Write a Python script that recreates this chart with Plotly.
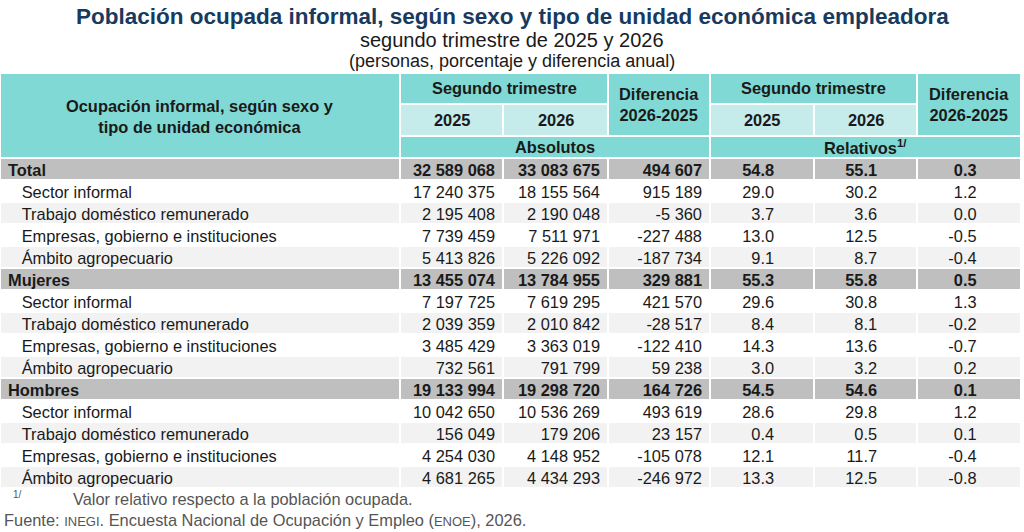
import plotly.graph_objects as go

# ==== datos ====
grupos = ["Total", "Mujeres", "Hombres"]
tipos = ["Sector informal", "Trabajo doméstico remunerado",
         "Empresas, gobierno e instituciones", "Ámbito agropecuario"]

abs_2025 = [32589068, 17240375, 2195408, 7739459, 5413826,
            13455074, 7197725, 2039359, 3485429, 732561,
            19133994, 10042650, 156049, 4254030, 4681265]
abs_2026 = [33083675, 18155564, 2190048, 7511971, 5226092,
            13784955, 7619295, 2010842, 3363019, 791799,
            19298720, 10536269, 179206, 4148952, 4434293]
abs_dif = [494607, 915189, -5360, -227488, -187734,
           329881, 421570, -28517, -122410, 59238,
           164726, 493619, 23157, -105078, -246972]
rel_2025 = [54.8, 29.0, 3.7, 13.0, 9.1,
            55.3, 29.6, 8.4, 14.3, 3.0,
            54.5, 28.6, 0.4, 12.1, 13.3]
rel_2026 = [55.1, 30.2, 3.6, 12.5, 8.7,
            55.8, 30.8, 8.1, 13.6, 3.2,
            54.6, 29.8, 0.5, 11.7, 12.5]
rel_dif = [0.3, 1.2, 0.0, -0.5, -0.4,
           0.5, 1.3, -0.2, -0.7, 0.2,
           0.1, 1.2, 0.1, -0.4, -0.8]

W, H = 1024, 532
TEAL = "#80d9d4"
TEAL_LIGHT = "#c5ecea"
GRIS = "#bfbfbf"
GRIS_CLARO = "#f2f2f2"
CLARO = "rgba(0,0,0,0)"
NB = "\u00a0"
FONT = "Liberation Sans, Arial, sans-serif"
FS = 16.4

# bordes de columnas (px)
cols = [0, 400, 503, 608, 710, 814, 917, 1021]
y_top, y_r1, y_r2, y_r3 = 73, 104, 136, 158
row_h = 22
sube_texto = 2  # el texto de la tabla queda algo bajo; se sube unos px


def miles(v):
    s = f"{abs(v):,}".replace(",", " ")
    return ("-" if v < 0 else "") + s


# ==== etiquetas y estilo de filas ====
etiquetas, fills, es_grupo = [], [], []
for g in grupos:
    etiquetas.append(g)
    fills.append(GRIS)
    es_grupo.append(True)
    for i, t in enumerate(tipos):
        etiquetas.append(NB * 3 + t)
        fills.append("white" if i % 2 == 0 else GRIS_CLARO)
        es_grupo.append(False)


def fmt(vals, f, pad):
    return [f(v) + NB * pad for v in vals]


dec = lambda v: f"{v:.1f}"
celdas = [
    etiquetas,
    fmt(abs_2025, miles, 0),
    fmt(abs_2026, miles, 0),
    fmt(abs_dif, miles, 0),
    fmt(rel_2025, dec, 7),
    fmt(rel_2026, dec, 7),
    fmt(rel_dif, dec, 8),
]
# filas normales y filas en negrita (grupos) en capas separadas
vacias = [[""] * len(col) for col in celdas]
normales = [[s if not g else "" for s, g in zip(col, es_grupo)] for col in celdas]
negritas = [[s if g else "" for s, g in zip(col, es_grupo)] for col in celdas]

anchos = [cols[i + 1] - cols[i] for i in range(len(cols) - 1)]


def tabla(vals, fill, weight, line_color, dy=0):
    top = y_r3 - 1 - dy
    return go.Table(
        domain=dict(x=[0, cols[-1] / W], y=[1 - (top + 1 + row_h * 15 + 1) / H, 1 - top / H]),
        columnwidth=anchos,
        header=dict(values=[""] * 7, height=1, fill_color=CLARO,
                    line=dict(color=CLARO, width=0)),
        cells=dict(
            values=vals,
            height=row_h,
            align=["left"] + ["right"] * 6,
            fill_color=fill,
            line=dict(color=line_color, width=2),
            font=dict(family=FONT, size=FS, color="#1a1a1a", weight=weight),
        ),
    )


fig = go.Figure([
    tabla(vacias, [fills] * 7, "normal", "white"),
    tabla(normales, CLARO, "normal", CLARO, sube_texto),
    tabla(negritas, CLARO, "bold", CLARO, sube_texto),
])


# ==== encabezado ====
def px(x):
    return x / W


def py(y):
    return 1 - y / H


shapes = []


def celda(x0, x1, y0, y1, color):
    shapes.append(dict(type="rect", xref="paper", yref="paper",
                       x0=px(x0), x1=px(x1), y0=py(y1), y1=py(y0),
                       fillcolor=color, line=dict(color="white", width=2), layer="below"))


annots = []


def texto(x, y, s, size=FS, bold=True, color="#1a1a1a", xanchor="center"):
    annots.append(dict(xref="paper", yref="paper", x=px(x), y=py(y), text=f"<b>{s}</b>" if bold else s,
                       showarrow=False, xanchor=xanchor, yanchor="middle",
                       font=dict(family=FONT, size=size, color=color)))


celda(cols[0], cols[1], y_top, y_r3, TEAL)
for k, sub in ((1, "Absolutos"), (4, "Relativos<sup>1/</sup>")):
    a, b, c, d = cols[k], cols[k + 1], cols[k + 2], cols[k + 3]
    celda(a, c, y_top, y_r1, TEAL)
    celda(a, b, y_r1, y_r2, TEAL_LIGHT)
    celda(b, c, y_r1, y_r2, TEAL_LIGHT)
    celda(c, d, y_top, y_r2, TEAL)
    celda(a, d, y_r2, y_r3, TEAL)
    texto((a + c) / 2, (y_top + y_r1) / 2, "Segundo trimestre")
    texto((a + b) / 2, (y_r1 + y_r2) / 2, "2025")
    texto((b + c) / 2, (y_r1 + y_r2) / 2, "2026")
    texto((c + d) / 2, (y_top + y_r2) / 2, "Diferencia<br>2026-2025")
    texto((a + d) / 2, (y_r2 + y_r3) / 2, sub)

texto(cols[1] / 2, (y_top + y_r3) / 2 + 1, "Ocupación informal, según sexo y<br>tipo de unidad económica")

# títulos
texto(W / 2, 16, "Población ocupada informal, según sexo y tipo de unidad económica empleadora",
      size=22.5, color="#173a5e")
texto(W / 2, 40, "segundo trimestre de 2025 y 2026", size=20, bold=False, color="#1a1a1a")
texto(W / 2, 61, "(personas, porcentaje y diferencia anual)", size=18, bold=False, color="#1a1a1a")

# notas
texto(11, 494, "1/", size=10, bold=False, color="#555555", xanchor="left")
texto(71, 499, "Valor relativo respecto a la población ocupada.", size=FS, bold=False,
      color="#555555", xanchor="left")
texto(2, 520, "Fuente: <span style='font-size:13px'>INEGI</span>. Encuesta Nacional de Ocupación y Empleo "
      "(<span style='font-size:13px'>ENOE</span>), 2026.", size=FS, bold=False,
      color="#555555", xanchor="left")

fig.update_layout(
    width=W, height=H,
    margin=dict(l=0, r=0, t=0, b=0),
    paper_bgcolor="white",
    shapes=shapes,
    annotations=annots,
    font=dict(family=FONT),
)

fig.write_html("out.html", config={"displayModeBar": False},
               post_script="document.body.style.margin='0';")
